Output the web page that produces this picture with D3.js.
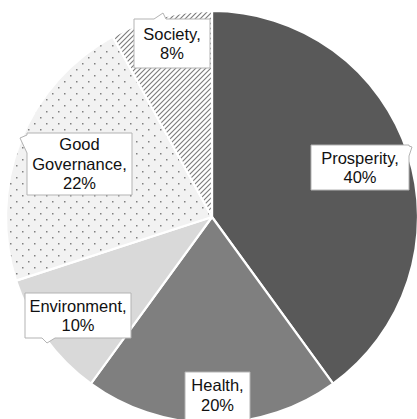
<!DOCTYPE html>
<html>
<head>
<meta charset="utf-8">
<script src="https://cdn.jsdelivr.net/npm/d3@7"></script>
<style>
  html, body { margin: 0; padding: 0; background: #ffffff; }
  svg { display: block; }
  text { font-family: "Liberation Sans", Arial, sans-serif; }
</style>
</head>
<body>
<svg id="chart" width="417" height="419"></svg>
<script>
// Share of focus areas
const categories = ["Prosperity", "Health", "Environment", "Good Governance", "Society"];
const shares = [40, 20, 10, 22, 8];
const labelLines = [["Prosperity,"], ["Health,"], ["Environment,"], ["Good", "Governance,"], ["Society,"]];

// Label callout boxes: [x, y, w, h] and pointer description
const calloutBoxes = [
  [311, 145, 98, 45],
  [185, 372, 65, 50],
  [25, 293, 106, 45],
  [27, 133, 105, 62],
  [134, 19, 76, 49]
];
const calloutPointers = [
  { side: "right", a: 146, b: 156, tip: [412, 147] },
  { side: "bottom", a: 232, b: 242, tip: [240, 428] },
  { side: "bottom", a: 42, b: 55, tip: [47, 343] },
  { side: "left", a: 135, b: 153, tip: [20, 138] },
  { side: "top", a: 154, b: 166, tip: [163, 13] }
];

const fills = ["#595959", "#7f7f7f", "#d9d9d9", "url(#dots)", "url(#hatch)"];

const svg = d3.select("#chart");
const cx = 212, cy = 217, radius = 206;

// Fill patterns
const defs = svg.append("defs");
const dots = defs.append("pattern")
  .attr("id", "dots").attr("patternUnits", "userSpaceOnUse")
  .attr("width", 12).attr("height", 12);
dots.append("rect").attr("width", 12).attr("height", 12).attr("fill", "#f2f2f2");
dots.append("rect").attr("x", 2).attr("y", 2).attr("width", 1.5).attr("height", 1.5).attr("fill", "#808080");
dots.append("rect").attr("x", 8).attr("y", 8).attr("width", 1.5).attr("height", 1.5).attr("fill", "#808080");

const hatch = defs.append("pattern")
  .attr("id", "hatch").attr("patternUnits", "userSpaceOnUse")
  .attr("width", 5).attr("height", 5);
hatch.append("rect").attr("width", 5).attr("height", 5).attr("fill", "#ffffff");
hatch.append("path").attr("d", "M-1,1 L1,-1 M0,5 L5,0 M4,6 L6,4")
  .attr("stroke", "#7a7a7a").attr("stroke-width", 1.1);

const pie = d3.pie().sort(null).value(d => d).startAngle(0).endAngle(2 * Math.PI);
const arc = d3.arc().innerRadius(0).outerRadius(radius);

const g = svg.append("g").attr("transform", `translate(${cx},${cy})`);
g.selectAll("path.slice")
  .data(pie(shares))
  .join("path")
  .attr("class", "slice")
  .attr("d", arc)
  .attr("fill", (d, i) => fills[i])
  .attr("stroke", "#ffffff")
  .attr("stroke-width", 2.2)
  .attr("stroke-linejoin", "round");

// Callout outline: rectangle with a triangular pointer on one side
function calloutPath(x, y, w, h, p) {
  const pts = [];
  pts.push([x, y]);
  if (p.side === "top") { pts.push([p.a, y], p.tip, [p.b, y]); }
  pts.push([x + w, y]);
  if (p.side === "right") { pts.push([x + w, p.a], p.tip, [x + w, p.b]); }
  pts.push([x + w, y + h]);
  if (p.side === "bottom") { pts.push([p.b, y + h], p.tip, [p.a, y + h]); }
  pts.push([x, y + h]);
  if (p.side === "left") { pts.push([x, p.b], p.tip, [x, p.a]); }
  return "M" + pts.map(q => q.join(",")).join("L") + "Z";
}

const fontSize = 16.5, lineH = 19.5;
const labels = svg.append("g");
categories.forEach((c, i) => {
  const [x, y, w, h] = calloutBoxes[i];
  labels.append("path")
    .attr("d", calloutPath(x, y, w, h, calloutPointers[i]))
    .attr("fill", "#ffffff")
    .attr("stroke", "#b3b3b3")
    .attr("stroke-width", 1);
  const lines = labelLines[i].concat([shares[i] + "%"]);
  const mx = x + w / 2, my = (i === 1 ? y + 23 : y + h / 2);
  const first = my - (lines.length - 1) * lineH / 2 + fontSize * 0.36;
  const t = labels.append("text")
    .attr("text-anchor", "middle")
    .attr("font-size", fontSize)
    .attr("fill", "#111111");
  lines.forEach((ln, k) => {
    t.append("tspan").attr("x", mx).attr("y", first + k * lineH).text(ln);
  });
});
</script>
</body>
</html>
